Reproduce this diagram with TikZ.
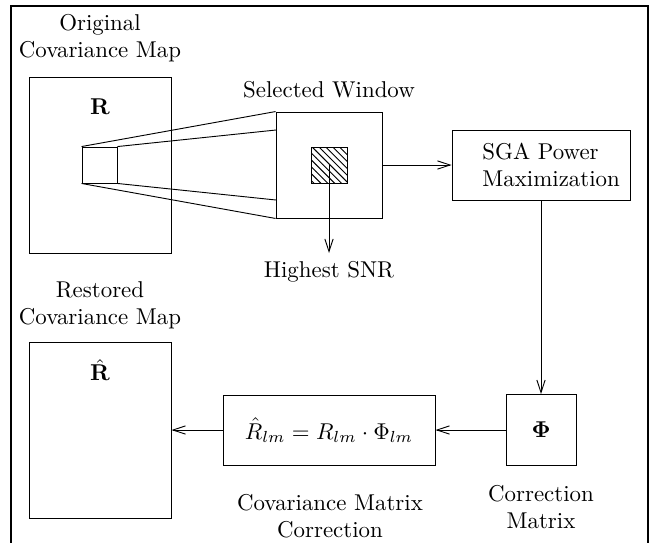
\documentclass[tikz,border=0pt]{standalone}
\usetikzlibrary{arrows.meta,patterns}
\newdimen\pxu \pxu=0.437pt
\tikzset{
  box/.style={draw, rectangle, inner sep=0pt},
  lbl/.style={align=center, inner sep=0pt},
  arr/.style={-{Straight Barb[length=5.5pt,width=3.6pt]}},
}
\begin{document}
\begin{tikzpicture}[x=0.437pt, y=-0.437pt, line width=0.4pt]
\useasboundingbox (0,0) rectangle (651,542);
% frame
\draw[line width=0.5pt] (11,560) -- (11,6) -- (648,6) -- (648,560);
% original map
\node[lbl] (orig) at (100,38) {Original\\Covariance Map};
\node[box, minimum width=142\pxu, minimum height=176\pxu] (R) at (100,165) {};
\node[lbl] (Rl) at (100,107) {$\mathbf{R}$};
\node[box, minimum width=35\pxu, minimum height=36\pxu] (sw) at (99.5,165) {};
% selected window
\node[lbl] (selt) at (329,90) {Selected Window};
\node[box, minimum width=106\pxu, minimum height=106\pxu] (win) at (329,165) {};
\coordinate (wt) at (276,130);
\coordinate (wb) at (276,200);
\draw (sw.north west) -- (win.north west);
\draw (sw.south west) -- (win.south west);
\draw (sw.north east) -- (wt);
\draw (sw.south east) -- (wb);
\node[box, pattern=north west lines, minimum width=36\pxu, minimum height=36\pxu] (hatch) at (329,165) {};
\node[anchor=north] (snr) at (329,253) {Highest SNR};
\draw[arr] (hatch.center) -- (snr.north);
% SGA
\node[box, minimum width=178\pxu, minimum height=70\pxu] (sga) at (541,165) {};
\node[align=left, anchor=west, inner sep=0pt] (sgat) at (482,165) {SGA Power\\Maximization};
\draw[arr] (win.east) -- (sga.west);
% Phi
\node[box, minimum width=70\pxu, minimum height=71\pxu] (phi) at (541,430) {$\mathbf{\Phi}$};
\draw[arr] (sga.south) -- (phi.north);
\node[lbl] (cm) at (541,507) {Correction\\Matrix};
% formula
\node[box, minimum width=212\pxu, minimum height=70\pxu] (form) at (329,430) {$\hat{R}_{lm} = R_{lm}\cdot\Phi_{lm}$};
\draw[arr] (phi.west) -- (form.east);
\node[lbl] (cmc) at (330,516) {Covariance Matrix\\Correction};
% restored
\node[lbl] (rest) at (100,305) {Restored\\Covariance Map};
\node[box, minimum width=142\pxu, minimum height=176\pxu] (Rh) at (100,430) {};
\node[lbl] (Rhl) at (100,370) {$\hat{\mathbf{R}}$};
\draw[arr] (form.west) -- (Rh.east);
\end{tikzpicture}
\end{document}
